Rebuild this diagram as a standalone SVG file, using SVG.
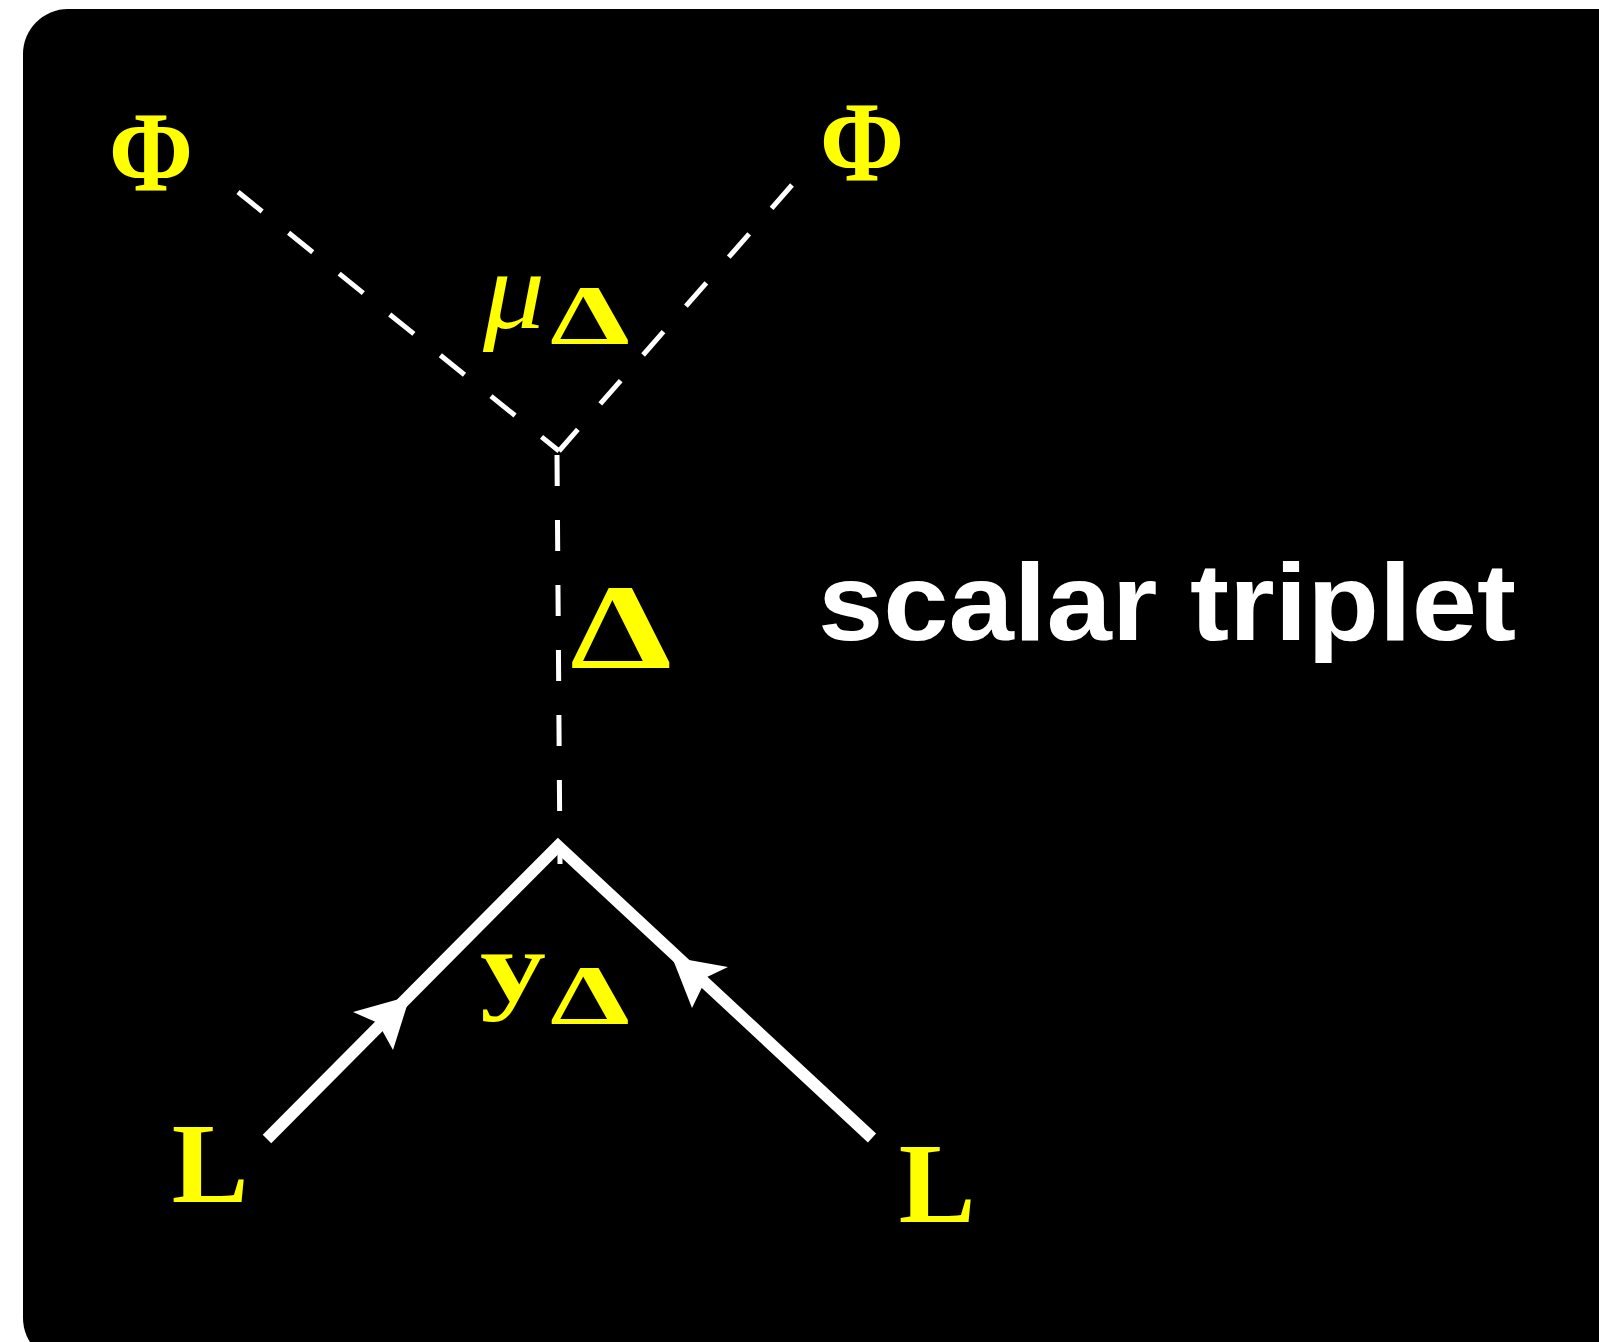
<svg xmlns="http://www.w3.org/2000/svg" width="1599" height="1342" viewBox="0 0 1599 1342">
  <style>
    .dash { stroke: #ffffff; stroke-width: 5; stroke-dasharray: 31 34; fill: none; }
    .solid { stroke: #ffffff; stroke-width: 12; fill: none; stroke-linejoin: miter; }
    .arrow { fill: #ffffff; }
    .sym { fill: #ffff00; font-family: "Liberation Serif", "DejaVu Serif", serif; font-weight: bold; }
    .ital { fill: #ffff00; font-family: "Liberation Serif", "DejaVu Serif", serif; font-style: italic; }
    .title { fill: #ffffff; font-family: "Liberation Sans", Arial, sans-serif; font-weight: bold; }
  </style>
  <rect x="0" y="0" width="1599" height="1342" fill="#ffffff"/>
  <rect id="background" x="23" y="9" width="1640" height="1354" rx="45" ry="45" fill="#000000"/>

  <g id="connectors">
    <line class="dash" x1="238" y1="192" x2="559" y2="451"/>
    <line class="dash" x1="792" y1="185" x2="559" y2="451"/>
    <line class="dash" x1="557" y1="455" x2="560" y2="864"/>
    <polyline class="solid" points="267,1139 558,846 872,1138"/>
    <polygon class="arrow" points="410,996 393,1050 378,1023 353,1012"/>
    <polygon class="arrow" points="672,957 728,967 707,977 692,1008"/>
  </g>

  <g id="node-phi-left">
    <text class="sym" x="151" y="190" font-size="114" text-anchor="middle" textLength="84" lengthAdjust="spacingAndGlyphs">Φ</text>
  </g>
  <g id="node-phi-right">
    <text class="sym" x="862" y="180" font-size="114" text-anchor="middle" textLength="84" lengthAdjust="spacingAndGlyphs">Φ</text>
  </g>
  <g id="node-mu-delta">
    <text class="ital" x="483" y="328" font-size="112" textLength="62" lengthAdjust="spacingAndGlyphs">μ</text>
    <text class="sym" x="590" y="344" font-size="84" text-anchor="middle" textLength="80" lengthAdjust="spacingAndGlyphs">Δ</text>
  </g>
  <g id="node-delta">
    <text class="sym" x="621" y="668" font-size="120" text-anchor="middle" textLength="102" lengthAdjust="spacingAndGlyphs">Δ</text>
  </g>
  <g id="node-scalar-triplet">
    <text class="title" x="818" y="640" font-size="110" textLength="698" lengthAdjust="spacingAndGlyphs">scalar triplet</text>
  </g>
  <g id="node-y-delta">
    <text class="sym" x="480" y="1001" font-size="100" textLength="66" lengthAdjust="spacingAndGlyphs">y</text>
    <text class="sym" x="590" y="1024" font-size="84" text-anchor="middle" textLength="80" lengthAdjust="spacingAndGlyphs">Δ</text>
  </g>
  <g id="node-L-left">
    <text class="sym" x="210" y="1202" font-size="115" text-anchor="middle">L</text>
  </g>
  <g id="node-L-right">
    <text class="sym" x="937" y="1222" font-size="115" text-anchor="middle">L</text>
  </g>
</svg>
